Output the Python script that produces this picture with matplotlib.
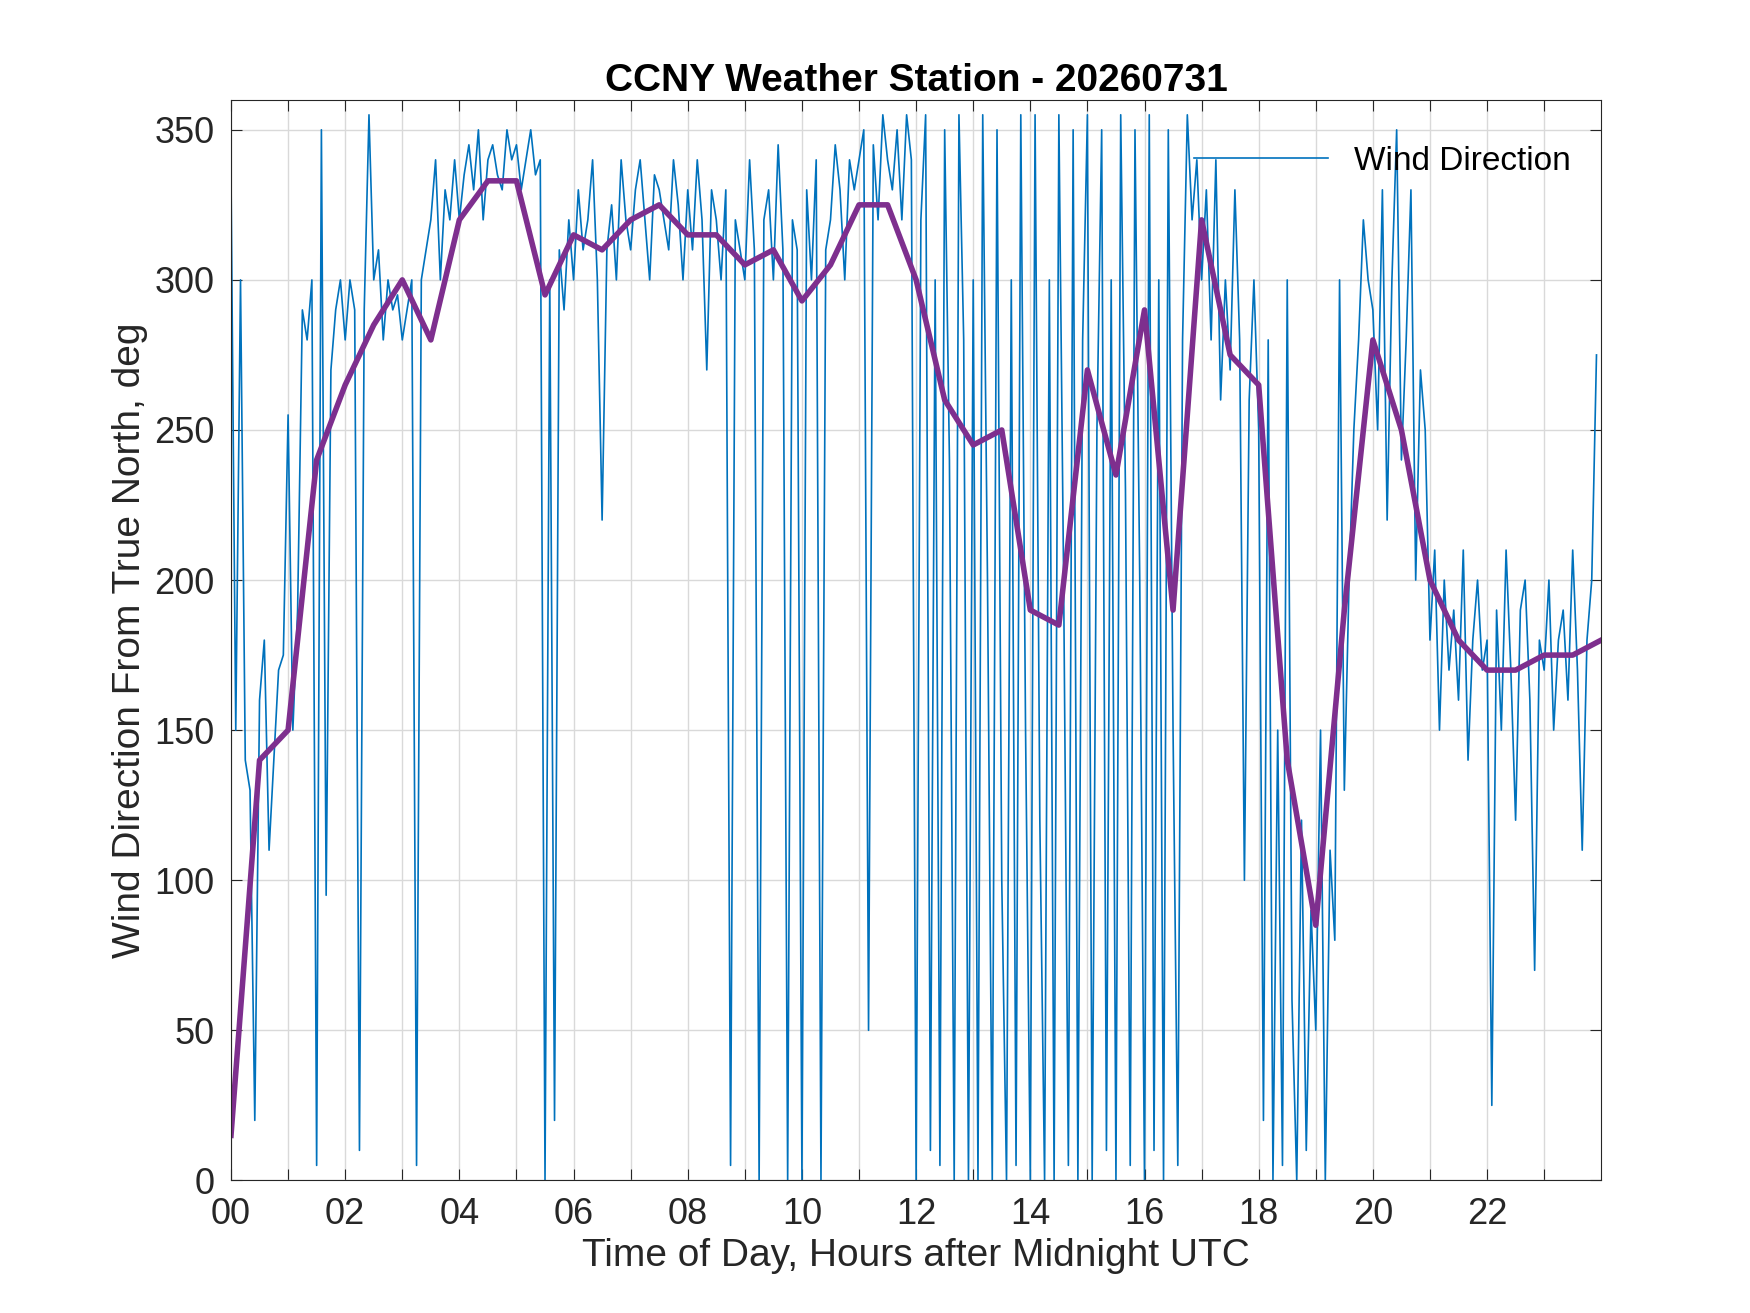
import numpy as np
import matplotlib.pyplot as plt

# wind direction, 5-minute samples (12 per hour)
wind_dir = [
    335, 150, 300, 140, 130, 20, 160, 180, 110, 140, 170, 175,
    255, 150, 190, 290, 280, 300, 5, 350, 95, 270, 290, 300,
    280, 300, 290, 10, 290, 355, 300, 310, 280, 300, 290, 295,
    280, 290, 300, 5, 300, 310, 320, 340, 300, 330, 320, 340,
    320, 335, 345, 330, 350, 320, 340, 345, 335, 330, 350, 340,
    345, 330, 340, 350, 335, 340, 0, 300, 20, 310, 290, 320,
    300, 330, 310, 320, 340, 300, 220, 310, 325, 300, 340, 320,
    310, 330, 340, 320, 300, 335, 330, 320, 310, 340, 325, 300,
    330, 310, 340, 320, 270, 330, 320, 300, 330, 5, 320, 310,
    300, 340, 310, 0, 320, 330, 300, 345, 310, 0, 320, 310,
    0, 330, 300, 340, 0, 310, 320, 345, 330, 300, 340, 330,
    340, 350, 50, 345, 320, 355, 340, 330, 350, 320, 355, 340,
    0, 320, 355, 10, 300, 5, 350, 240, 0, 355, 280, 0,
    300, 0, 355, 200, 0, 350, 100, 0, 300, 5, 355, 150,
    0, 355, 120, 0, 300, 0, 355, 200, 5, 350, 0, 280,
    355, 0, 250, 350, 10, 300, 0, 355, 230, 5, 350, 200,
    0, 355, 10, 300, 0, 350, 150, 5, 280, 355, 320, 340,
    300, 330, 280, 340, 260, 300, 270, 330, 280, 100, 260, 300,
    250, 20, 280, 0, 150, 5, 300, 60, 0, 120, 10, 90,
    50, 150, 0, 110, 80, 300, 130, 200, 250, 280, 320, 300,
    290, 250, 330, 220, 300, 350, 240, 280, 330, 200, 270, 250,
    180, 210, 150, 200, 170, 190, 160, 210, 140, 180, 200, 170,
    180, 25, 190, 150, 210, 170, 120, 190, 200, 160, 70, 180,
    170, 200, 150, 180, 190, 160, 210, 170, 110, 180, 200, 275,
]
wind_hours = np.arange(len(wind_dir)) / 12.0

# smoothed direction, half-hour steps
avg_hours = np.arange(0, 24.01, 0.5)
avg_dir = [15, 140, 150, 240, 265, 285, 300, 280, 320, 333, 333, 295,
           315, 310, 320, 325, 315, 315, 305, 310, 293, 305, 325, 325,
           300, 260, 245, 250, 190, 185, 270, 235, 290, 190, 320, 275,
           265, 140, 85, 190, 280, 250, 200, 180, 170, 170, 175, 175, 180]

plt.rcParams['font.family'] = ['Liberation Sans', 'DejaVu Sans']
fig = plt.figure(figsize=(17.5, 13.13), dpi=100)
ax = fig.add_axes([0.132, 0.101, 0.783, 0.823])

ax.plot(wind_hours, wind_dir, color='#0072BD', lw=1.2, label='Wind Direction')
ax.plot(avg_hours, avg_dir, color='#7E2F8E', lw=4)

ax.set_xlim(0, 24)
ax.set_ylim(0, 360)
ax.set_xticks(range(0, 24))
ax.set_xticklabels(['%02d' % h if h % 2 == 0 else '' for h in range(24)])
ax.set_yticks(range(0, 351, 50))
ax.grid(True, color='#d9d9d9', lw=1)
ax.tick_params(labelsize=26, direction='in', length=8, top=True, right=True,
               colors='#262626', pad=12)
for s in ax.spines.values():
    s.set_color('#262626')

ax.set_title('CCNY Weather Station - 20260731', fontsize=28, fontweight='bold')
ax.set_xlabel('Time of Day, Hours after Midnight UTC', fontsize=28, color='#262626')
ax.set_ylabel('Wind Direction From True North, deg', fontsize=28, color='#262626')
ax.legend(loc='upper right', frameon=False, fontsize=24, handlelength=4,
          bbox_to_anchor=(1.0, 0.985))

fig.savefig('out.png')
